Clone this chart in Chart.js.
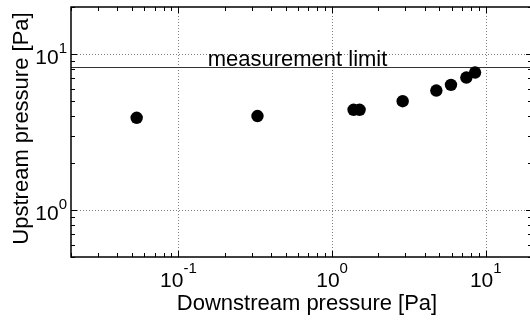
<!DOCTYPE html>
<html>
<head>
<meta charset="utf-8">
<script src="https://cdn.jsdelivr.net/npm/chart.js@4/dist/chart.umd.min.js"></script>
<style>
  html, body { margin: 0; padding: 0; background: #fff; overflow: hidden; }
  #wrap { position: absolute; left: 0; top: 0; width: 530px; height: 320px; overflow: hidden; }
  canvas { display: block; }
</style>
</head>
<body>
<div id="wrap"><canvas id="c" width="540" height="320"></canvas></div>
<script>
// ---- data ----
const downstreamPressure = [0.0535, 0.327, 1.38, 1.51, 2.88, 4.77, 5.94, 7.48, 8.52];
const upstreamPressure   = [3.90, 4.00, 4.39, 4.39, 4.98, 5.83, 6.34, 7.06, 7.60];
const measurementLimit = 8.3;
const measurementLabel = 'measurement limit';
const xDecades = [0.1, 1, 10];
const xDecadeExponents = ['-1', '0', '1'];
const yDecades = [1, 10];
const yDecadeExponents = ['0', '1'];
const xTitle = 'Downstream pressure [Pa]';
const yTitle = 'Upstream pressure [Pa]';

const FONT = '"Liberation Sans", Arial, Helvetica, sans-serif';

function minorTicks(min, max) {
  const out = [];
  let p = Math.pow(10, Math.floor(Math.log10(min)));
  while (p <= max) {
    for (let m = 1; m < 10; m++) {
      const v = +(m * p).toPrecision(6);
      if (v >= min * 0.999 && v <= max * 1.001) out.push({ v, major: m === 1 });
    }
    p *= 10;
  }
  return out;
}

const framePlugin = {
  id: 'frame',
  beforeDatasetsDraw(chart) {
    const { ctx, chartArea: a, scales: { x, y } } = chart;
    ctx.save();
    // dotted decade grid
    ctx.strokeStyle = '#808080';
    ctx.lineWidth = 1;
    ctx.setLineDash([1, 2]);
    xDecades.forEach(v => {
      const px = Math.round(x.getPixelForValue(v)) + 0.5;
      ctx.beginPath(); ctx.moveTo(px, a.top); ctx.lineTo(px, a.bottom); ctx.stroke();
    });
    yDecades.forEach(v => {
      const py = Math.round(y.getPixelForValue(v)) + 0.5;
      ctx.beginPath(); ctx.moveTo(a.left, py); ctx.lineTo(a.right, py); ctx.stroke();
    });
    ctx.setLineDash([]);
    // measurement limit line
    const ly = Math.round(y.getPixelForValue(measurementLimit)) + 0.5;
    ctx.strokeStyle = '#333';
    ctx.lineWidth = 1;
    ctx.beginPath(); ctx.moveTo(a.left, ly); ctx.lineTo(a.right, ly); ctx.stroke();
    ctx.fillStyle = '#000';
    ctx.font = '22px ' + FONT;
    ctx.textAlign = 'left';
    ctx.textBaseline = 'alphabetic';
    ctx.fillText(measurementLabel, x.getPixelForValue(0.155), ly - 1.5);
    ctx.restore();
  },
  afterDraw(chart) {
    const { ctx, chartArea: a, scales: { x, y } } = chart;
    ctx.save();
    ctx.strokeStyle = '#000';
    // ticks (inward, all four sides)
    ctx.lineWidth = 1;
    minorTicks(x.min, x.max).forEach(t => {
      const px = Math.round(x.getPixelForValue(t.v)) + 0.5;
      const len = t.major ? 6 : 4;
      ctx.beginPath();
      ctx.moveTo(px, a.bottom); ctx.lineTo(px, a.bottom - len);
      ctx.moveTo(px, a.top); ctx.lineTo(px, a.top + len);
      ctx.stroke();
    });
    minorTicks(y.min, y.max).forEach(t => {
      const py = Math.round(y.getPixelForValue(t.v)) + 0.5;
      const len = t.major ? 6 : 4;
      ctx.beginPath();
      ctx.moveTo(a.left, py); ctx.lineTo(a.left + len, py);
      ctx.moveTo(a.right, py); ctx.lineTo(a.right - len, py);
      ctx.stroke();
    });
    // frame
    ctx.lineWidth = 1.5;
    ctx.strokeRect(a.left, a.top, a.right - a.left, a.bottom - a.top);

    ctx.fillStyle = '#000';
    ctx.textBaseline = 'alphabetic';
    const big = '21px ' + FONT, small = '15px ' + FONT;
    // x tick labels
    xDecades.forEach((v, i) => {
      const px = x.getPixelForValue(v);
      ctx.font = big; const w1 = ctx.measureText('10').width;
      ctx.font = small; const w2 = ctx.measureText(xDecadeExponents[i]).width;
      const left = px - (w1 + w2) / 2;
      ctx.textAlign = 'left';
      ctx.font = big; ctx.fillText('10', left, a.bottom + 30);
      ctx.font = small; ctx.fillText(xDecadeExponents[i], left + w1, a.bottom + 16);
    });
    // y tick labels
    yDecades.forEach((v, i) => {
      const py = y.getPixelForValue(v);
      ctx.font = small; const w2 = ctx.measureText(yDecadeExponents[i]).width;
      const right = a.left - 4;
      ctx.textAlign = 'right';
      ctx.font = small; ctx.fillText(yDecadeExponents[i], right, py - 1);
      ctx.font = big; ctx.fillText('10', right - w2, py + 10);
    });
    // axis titles
    ctx.font = '22px ' + FONT;
    ctx.textAlign = 'center';
    ctx.fillText(xTitle, 307, 310);
    ctx.save();
    ctx.translate(27.5, 128.5);
    ctx.rotate(-Math.PI / 2);
    ctx.fillText(yTitle, 0, 0);
    ctx.restore();
    ctx.restore();
  }
};

new Chart(document.getElementById('c'), {
  type: 'scatter',
  data: {
    datasets: [{
      data: downstreamPressure.map((v, i) => ({ x: v, y: upstreamPressure[i] })),
      backgroundColor: '#000',
      borderColor: '#000',
      borderWidth: 0,
      pointRadius: 6.2,
      pointHoverRadius: 6.2
    }]
  },
  options: {
    responsive: false,
    devicePixelRatio: 1,
    animation: false,
    events: [],
    layout: { padding: { left: 71, top: 7, right: 8, bottom: 63 } },
    plugins: { legend: { display: false }, tooltip: { enabled: false } },
    scales: {
      x: { type: 'logarithmic', min: 0.02, max: 20, display: false },
      y: { type: 'logarithmic', min: 0.5, max: 20, display: false }
    }
  },
  plugins: [framePlugin]
});
</script>
</body>
</html>
